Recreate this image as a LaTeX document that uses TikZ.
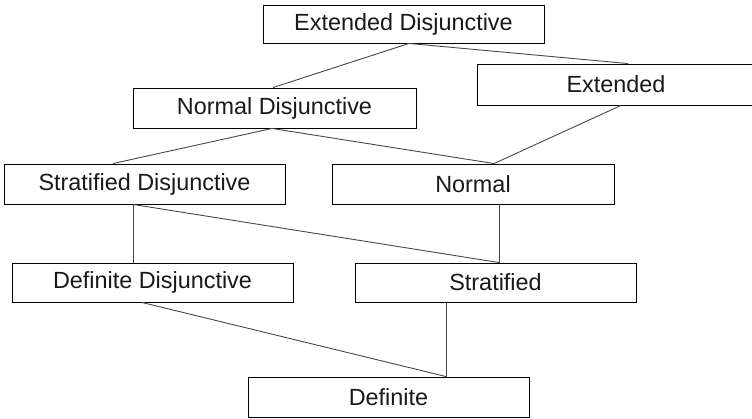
\documentclass[tikz,border=0pt]{standalone}
\usepackage{fontspec}
\setmainfont{Liberation Sans}
\begin{document}
\begin{tikzpicture}[x=1pt,y=-1pt,
  box/.style={draw=black,line width=0.9pt,fill=white,inner sep=0pt,
    font=\fontsize{23.4}{28}\selectfont,text=black!90},
  link/.style={draw=black!72,line width=0.9pt}]
\useasboundingbox (0,0) rectangle (752,419);
\node[box,minimum width=281,minimum height=38] (ed) at (403.5,24) {Extended Disjunctive};
\node[box,minimum width=278,minimum height=41] (ex) at (616,84.5) {Extended};
\node[box,minimum width=283,minimum height=40] (nd) at (274.5,108) {Normal Disjunctive};
\node[box,minimum width=281,minimum height=40] (sd) at (144.5,184) {Stratified Disjunctive};
\node[box,minimum width=282,minimum height=40] (no) at (473,184) {Normal};
\node[box,minimum width=281,minimum height=39] (dd) at (152.5,282.5) {Definite Disjunctive};
\node[box,minimum width=281,minimum height=39] (st) at (495.5,282.5) {Stratified};
\node[box,minimum width=281,minimum height=40] (df) at (388.5,397) {Definite};
\draw[link] ([xshift=5.5]ed.south) -- ([xshift=-1.5]nd.north);
\draw[link] ([xshift=5.5]ed.south) -- ([xshift=12]ex.north);
\draw[link] ([xshift=5]ex.south) -- ([xshift=21]no.north);
\draw[link] ([xshift=-2.5]nd.south) -- ([xshift=-31.5]sd.north);
\draw[link] ([xshift=-2.5]nd.south) -- ([xshift=21]no.north);
\draw[link] ([xshift=-11.5]sd.south) -- ([xshift=-19.5]dd.north);
\draw[link] ([xshift=-11.5]sd.south) -- ([xshift=3.5]st.north);
\draw[link] ([xshift=26]no.south) -- ([xshift=3.5]st.north);
\draw[link] ([xshift=-10.5]dd.south) -- ([xshift=57.5]df.north);
\draw[link] ([xshift=-49.5]st.south) -- ([xshift=57.5]df.north);
\end{tikzpicture}
\end{document}
